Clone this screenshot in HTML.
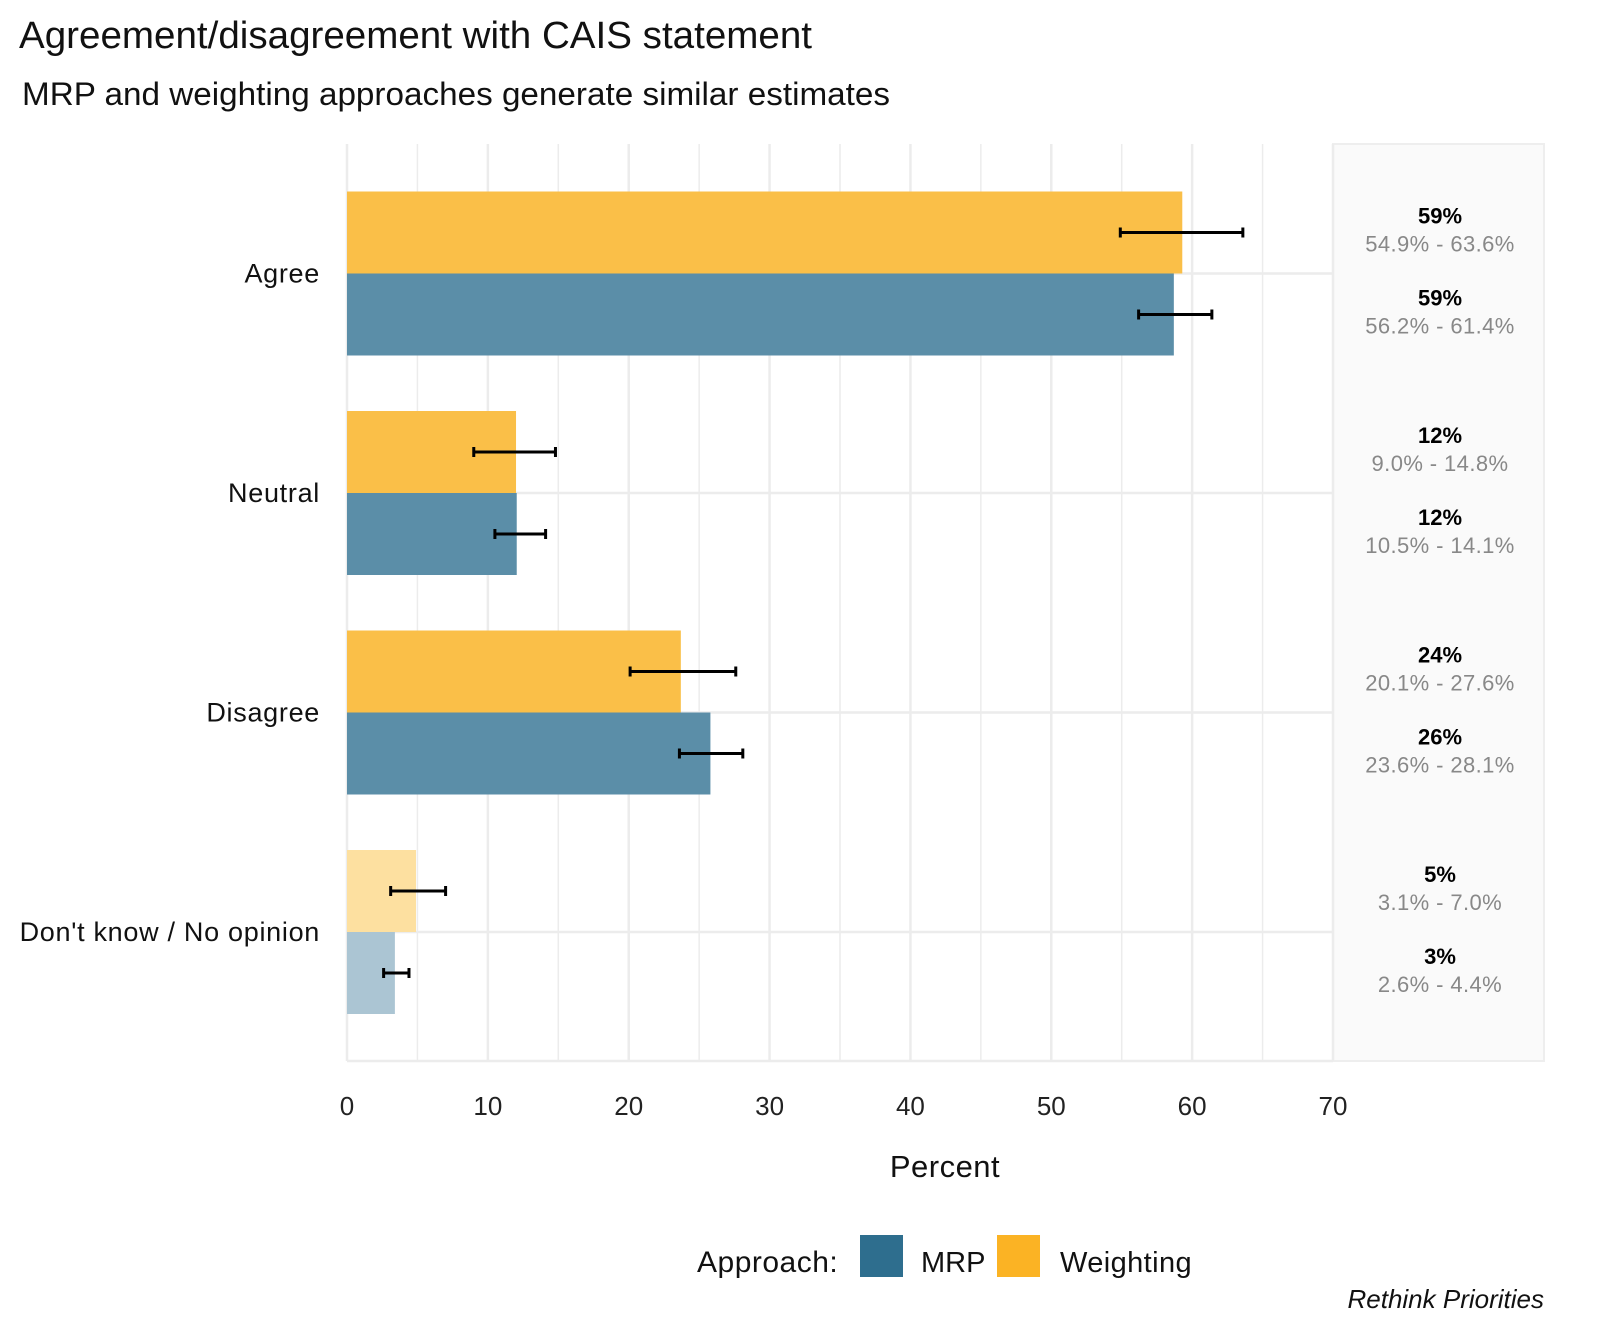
<!DOCTYPE html>
<html><head><meta charset="utf-8"><style>
html,body{margin:0;padding:0;background:#fff}
svg text{font-family:"Liberation Sans",sans-serif}
</style></head><body>
<svg id="chart" width="1600" height="1334" xmlns="http://www.w3.org/2000/svg">
<text x="19" y="48" font-size="38" textLength="793" lengthAdjust="spacingAndGlyphs" fill="#111">Agreement/disagreement with CAIS statement</text>
<text x="22" y="105" font-size="32" textLength="868" lengthAdjust="spacingAndGlyphs" fill="#111">MRP and weighting approaches generate similar estimates</text>
<rect x="1333" y="144" width="211" height="917" fill="#fafafa" stroke="#eee" stroke-width="2"/>
<g id="grid"></g>
<g id="bars"></g>
<g id="errs"></g>
<g id="labels"></g>
<text x="945" y="1177" font-size="31" letter-spacing="0.5" text-anchor="middle" fill="#111">Percent</text>
<text x="697" y="1272" font-size="30" letter-spacing="0.5" fill="#111">Approach:</text>
<rect x="860" y="1235" width="43" height="42" fill="#2e6e8e"/>
<text x="921" y="1272" font-size="29" fill="#111">MRP</text>
<rect x="997" y="1235" width="43" height="42" fill="#fbb324"/>
<text x="1060" y="1272" font-size="29" letter-spacing="0.4" fill="#111">Weighting</text>
<text x="1544" y="1308" font-size="26" font-style="italic" text-anchor="end" fill="#111">Rethink Priorities</text>
</svg>
<script>
const categories=["Agree","Neutral","Disagree","Don't know / No opinion"];
const weightVals=[59.3,12.0,23.7,4.9];
const weightLo=[54.9,9.0,20.1,3.1];
const weightHi=[63.6,14.8,27.6,7.0];
const mrpVals=[58.7,12.05,25.8,3.4];
const mrpLo=[56.2,10.5,23.6,2.6];
const mrpHi=[61.4,14.1,28.1,4.4];
const xTicks=[0,10,20,30,40,50,60,70];
const NS="http://www.w3.org/2000/svg";
const x=v=>347+v*(1333-347)/70;
const yc=i=>273.5+i*219.5;
const bh=82;
function mk(tag,attrs,parent){const e=document.createElementNS(NS,tag);for(const k in attrs)e.setAttribute(k,attrs[k]);document.getElementById(parent).appendChild(e);return e;}
for(let v=0;v<=70;v+=5){const l=mk('line',{x1:x(v),x2:x(v),y1:144,y2:1061,stroke:'#ececec','stroke-width':v%10?1.5:2.5},'grid');

}
categories.forEach((c,i)=>{const l=mk('line',{x1:347,x2:1333,y1:yc(i),y2:yc(i),stroke:'#ececec','stroke-width':2.5},'grid');

});
mk('line',{x1:347,x2:1333,y1:1061,y2:1061,stroke:'#ececec','stroke-width':2.5},'grid');
xTicks.forEach(t=>{const e=mk('text',{x:x(t),y:1115,'font-size':26,'text-anchor':'middle',fill:'#222'},'labels');e.textContent=t;

});
categories.forEach((c,i)=>{
 const dk=i===3;
 const t=mk('text',{x:320,y:yc(i)+9,'font-size':27,'letter-spacing':0.7,'text-anchor':'end',fill:'#111'},'labels');t.textContent=c;
 
 
 const w=mk('rect',{x:x(0),y:yc(i)-bh,width:x(weightVals[i])-x(0),height:bh,fill:dk?'#fde0a0':'#fabf48'},'bars');
 
 
 const m=mk('rect',{x:x(0),y:yc(i),width:x(mrpVals[i])-x(0),height:bh,fill:dk?'#abc5d3':'#5b8ea8'},'bars');
 
 
 [[weightLo[i],weightHi[i],yc(i)-bh/2,'weighting',weightVals[i]],[mrpLo[i],mrpHi[i],yc(i)+bh/2,'mrp',mrpVals[i]]].forEach(([lo,hi,y,n,v])=>{
  const g=mk('path',{d:`M${x(lo)},${y}H${x(hi)}M${x(lo)},${y-5}V${y+5}M${x(hi)},${y-5}V${y+5}`,stroke:'#000','stroke-width':3,fill:'none'},'errs');
  
  
  const b=mk('text',{x:1440,y:y-9,'font-size':22,'font-weight':'bold','text-anchor':'middle',fill:'#000'},'labels');b.textContent=Math.round(v)+'%';
  
  
  const r=mk('text',{x:1440,y:y+19,'font-size':22,'letter-spacing':0.4,'text-anchor':'middle',fill:'#888'},'labels');r.textContent=lo.toFixed(1)+'% - '+hi.toFixed(1)+'%';
  
  
 });
});
</script>
</body></html>
